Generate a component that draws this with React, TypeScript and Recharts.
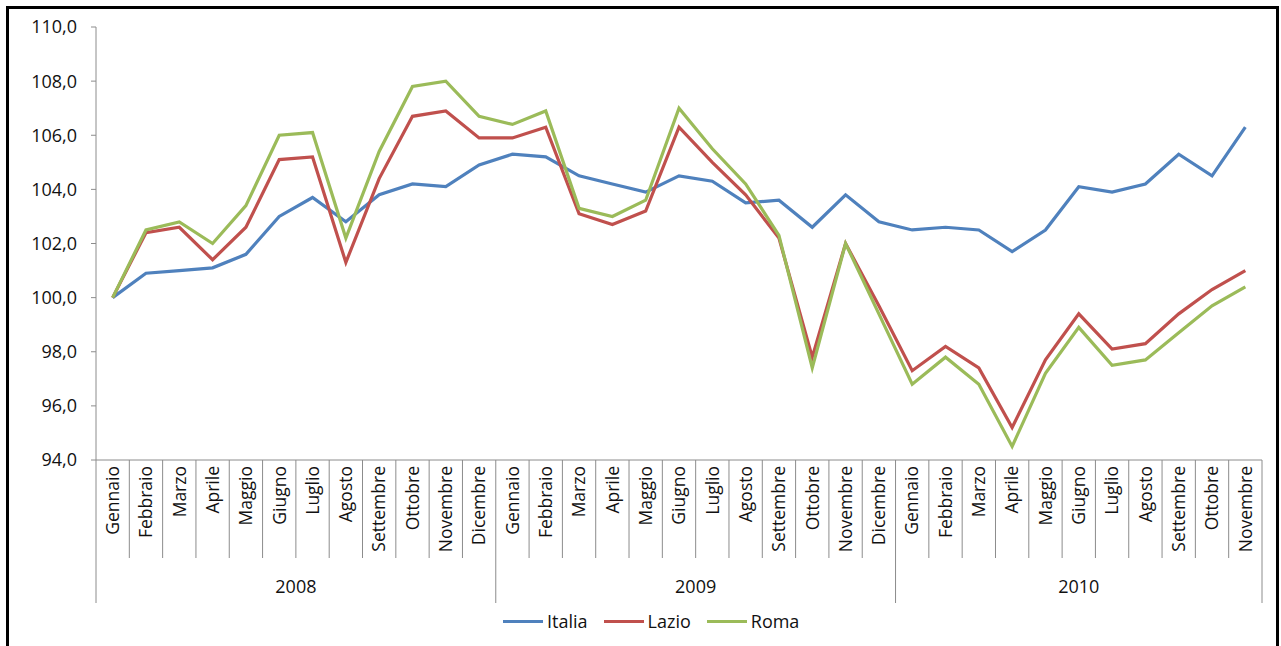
import { Line, LineChart, XAxis, YAxis } from "recharts";

const months = [
    "Gennaio", "Febbraio", "Marzo", "Aprile", "Maggio", "Giugno", "Luglio", "Agosto", "Settembre", "Ottobre", "Novembre", "Dicembre",
    "Gennaio", "Febbraio", "Marzo", "Aprile", "Maggio", "Giugno", "Luglio", "Agosto", "Settembre", "Ottobre", "Novembre", "Dicembre",
    "Gennaio", "Febbraio", "Marzo", "Aprile", "Maggio", "Giugno", "Luglio", "Agosto", "Settembre", "Ottobre", "Novembre",
];
const years = ["2008", "2009", "2010"];

const italia = [
    100.0, 100.9, 101.0, 101.1, 101.6, 103.0, 103.7, 102.8, 103.8, 104.2, 104.1, 104.9,
    105.3, 105.2, 104.5, 104.2, 103.9, 104.5, 104.3, 103.5, 103.6, 102.6, 103.8, 102.8,
    102.5, 102.6, 102.5, 101.7, 102.5, 104.1, 103.9, 104.2, 105.3, 104.5, 106.3,
];
const lazio = [
    100.0, 102.4, 102.6, 101.4, 102.6, 105.1, 105.2, 101.3, 104.4, 106.7, 106.9, 105.9,
    105.9, 106.3, 103.1, 102.7, 103.2, 106.3, 105.0, 103.8, 102.2, 97.8, 102.0, 99.7,
    97.3, 98.2, 97.4, 95.2, 97.7, 99.4, 98.1, 98.3, 99.4, 100.3, 101.0,
];
const roma = [
    100.0, 102.5, 102.8, 102.0, 103.4, 106.0, 106.1, 102.2, 105.4, 107.8, 108.0, 106.7,
    106.4, 106.9, 103.3, 103.0, 103.6, 107.0, 105.5, 104.2, 102.3, 97.4, 102.0, 99.4,
    96.8, 97.8, 96.8, 94.5, 97.2, 98.9, 97.5, 97.7, 98.7, 99.7, 100.4,
];
const yTicks = [94, 96, 98, 100, 102, 104, 106, 108, 110];

const series = [
    { key: "italia", name: "Italia", color: "#4F81BD" },
    { key: "lazio", name: "Lazio", color: "#C0504D" },
    { key: "roma", name: "Roma", color: "#9BBB59" },
];

const data = months.map((month, i) => ({
    month,
    year: years[Math.floor(i / 12)],
    italia: italia[i],
    lazio: lazio[i],
    roma: roma[i],
}));

const W = 1281;
const H = 646;
const margin = { top: 27, right: 19, left: 36, bottom: 36 };
const Y_AXIS_W = 60;
const PLOT_W = W - margin.left - margin.right - Y_AXIS_W;
const STEP = PLOT_W / months.length;
const AXIS = "#8c8c8c";
const TEXT = "#111";
const FONT = "'Open Sans', sans-serif";

const fmt = (v: number) => v.toFixed(1).replace(".", ",");

function MonthTick(props: any) {
    const { x, y, payload } = props;
    const i: number = payload.index;
    const half = STEP / 2;
    const yearStart = i % 12 === 0;
    const last = i === months.length - 1;
    const groupLen = Math.min(12, months.length - i);
    return (
        <g>
            <line x1={x - half} x2={x - half} y1={y} y2={y + (yearStart ? 143 : 98)} stroke={AXIS} />
            {last && <line x1={x + half} x2={x + half} y1={y} y2={y + 143} stroke={AXIS} />}
            <text
                x={x}
                y={y + 6}
                transform={`rotate(-90 ${x} ${y + 6})`}
                textAnchor="end"
                dy="0.36em"
                fill={TEXT}
                fontSize={17.5}
                fontFamily={FONT}
            >
                {payload.value}
            </text>
            {yearStart && (
                <text
                    x={x - half + (groupLen * STEP) / 2}
                    y={y + 126}
                    textAnchor="middle"
                    dominantBaseline="central"
                    fill={TEXT}
                    fontSize={18}
                    fontFamily={FONT}
                >
                    {data[i].year}
                </text>
            )}
        </g>
    );
}

export default function App() {
    return (
        <div style={{ position: "absolute", left: 0, top: 0, width: W, height: H, overflow: "hidden", background: "#fff" }}>
            <div
                style={{
                    position: "absolute",
                    left: 6,
                    top: 6,
                    width: 1267,
                    height: 700,
                    borderLeft: "3px solid #000",
                    borderTop: "3px solid #000",
                    borderRight: "3px solid #000",
                }}
            />
            <div style={{ position: "absolute", left: 0, top: 0 }}>
                <LineChart width={W} height={H} data={data} margin={margin}>
                    <XAxis
                        dataKey="month"
                        interval={0}
                        height={150}
                        tickSize={0}
                        tickMargin={0}
                        tickLine={false}
                        padding={{ left: STEP / 2, right: STEP / 2 }}
                        axisLine={{ stroke: AXIS }}
                        tick={<MonthTick />}
                    />
                    <YAxis
                        width={Y_AXIS_W}
                        domain={[94, 110]}
                        ticks={yTicks}
                        tickFormatter={fmt}
                        tickSize={5}
                        tickMargin={14}
                        axisLine={{ stroke: AXIS }}
                        tickLine={{ stroke: AXIS }}
                        tick={{ fill: TEXT, fontSize: 18, fontFamily: FONT }}
                    />
                    {series.map((s) => (
                        <Line
                            key={s.key}
                            type="linear"
                            dataKey={s.key}
                            name={s.name}
                            stroke={s.color}
                            strokeWidth={3.2}
                            dot={false}
                            activeDot={false}
                            isAnimationActive={false}
                        />
                    ))}
                </LineChart>
            </div>
            <div
                style={{
                    position: "absolute",
                    left: 503,
                    top: 609,
                    display: "flex",
                    alignItems: "center",
                    gap: 16,
                    fontFamily: FONT,
                    fontSize: 18,
                    color: TEXT,
                }}
            >
                {series.map((s) => (
                    <div key={s.key} style={{ display: "flex", alignItems: "center", gap: 4 }}>
                        <div style={{ width: 40, height: 3, background: s.color }} />
                        <span>{s.name}</span>
                    </div>
                ))}
            </div>
        </div>
    );
}
